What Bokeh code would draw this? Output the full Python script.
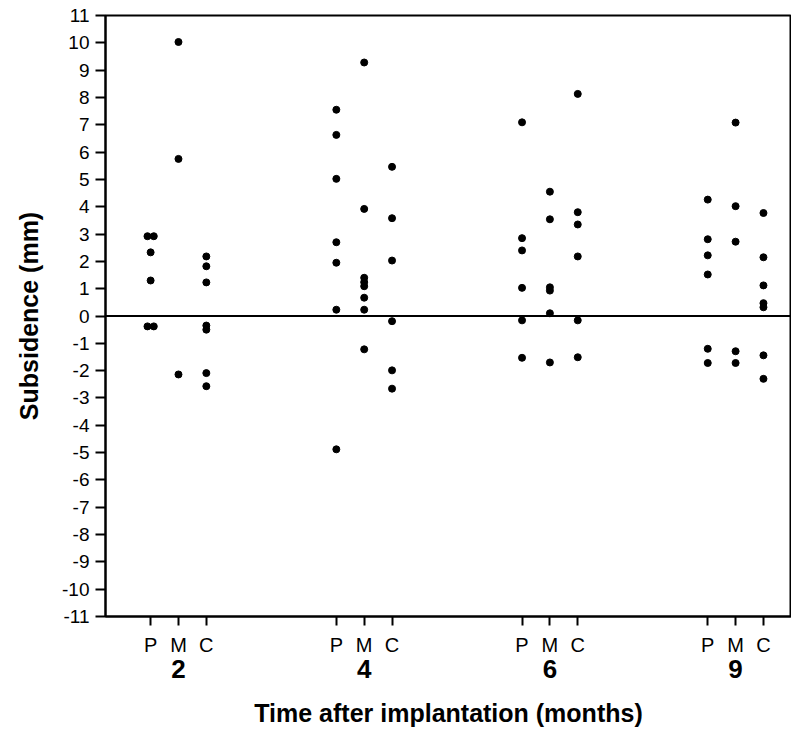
from bokeh.plotting import figure
from bokeh.models import FixedTicker, LinearAxis, Span, ColumnDataSource, Range1d
from bokeh.embed import file_html
from bokeh.resources import INLINE

# ---- data ----
months = ["2", "4", "6", "9"]
groups = ["P", "M", "C"]

m2_P = [2.92, 2.92, 2.33, 1.30, -0.38, -0.38]
m2_M = [10.03, 5.75, -2.14]
m2_C = [2.18, 1.82, 1.23, -0.35, -0.50, -2.09, -2.57]

m4_P = [7.55, 6.63, 5.02, 2.70, 1.95, 0.23, -4.88]
m4_M = [9.28, 3.92, 1.40, 1.24, 1.09, 0.67, 0.23, -1.22]
m4_C = [5.46, 3.58, 2.03, -0.19, -1.99, -2.66]

m6_P = [7.09, 2.85, 2.40, 1.03, -0.16, -1.53]
m6_M = [4.55, 3.54, 1.05, 0.93, 0.10, -1.70]
m6_C = [8.13, 3.80, 3.35, 2.18, -0.16, -1.51]

m9_P = [4.26, 2.81, 2.22, 1.52, -1.20, -1.72]
m9_M = [7.08, 4.02, 2.72, -1.29, -1.72]
m9_C = [3.77, 2.15, 1.12, 0.47, 0.32, -1.44, -2.30]

y_ticks = list(range(-11, 12))
y_tick_labels = [str(t) for t in y_ticks]
x_title = "Time after implantation (months)"
y_title = "Subsidence (mm)"

table = {
    ("2", "P"): m2_P, ("2", "M"): m2_M, ("2", "C"): m2_C,
    ("4", "P"): m4_P, ("4", "M"): m4_M, ("4", "C"): m4_C,
    ("6", "P"): m6_P, ("6", "M"): m6_M, ("6", "C"): m6_C,
    ("9", "P"): m9_P, ("9", "M"): m9_M, ("9", "C"): m9_C,
}

# ---- layout of the categorical positions ----
group_center = {m: 100 * (i + 1) for i, m in enumerate(months)}
sub_offset = {"P": -15, "M": 0, "C": 15}

xs, ys = [], []
for (m, g), vals in table.items():
    seen = {}
    for v in vals:
        seen[v] = seen.get(v, 0) + 1
    counts = {}
    for v in vals:
        n = seen[v]
        k = counts.get(v, 0)
        counts[v] = k + 1
        spread = (k - (n - 1) / 2) * 3.4 if n > 1 else 0
        xs.append(group_center[m] + sub_offset[g] + spread)
        ys.append(v)

src = ColumnDataSource(dict(x=xs, y=ys))

FONT = "Liberation Sans"

p = figure(width=791, height=733,
           x_range=Range1d(60.7, 430.1), y_range=Range1d(-11, 11),
           output_backend="svg", toolbar_location=None,
           min_border_left=105, min_border_top=15, min_border_right=0,
           min_border_bottom=117)
p.grid.visible = False
p.outline_line_color = "black"
p.outline_line_width = 2
p.background_fill_color = "white"
p.border_fill_color = "white"

p.scatter("x", "y", source=src, size=7, color="black")

p.add_layout(Span(location=0, dimension="width", line_color="black", line_width=2))

# y axis
ya = p.yaxis[0]
ya.ticker = FixedTicker(ticks=y_ticks)
ya.major_label_overrides = dict(zip(y_ticks, y_tick_labels))
ya.major_tick_out = 10
ya.major_tick_in = 0
ya.minor_tick_line_color = None
ya.major_tick_line_width = 2
ya.axis_line_width = 2
ya.axis_line_color = "black"
ya.major_tick_line_color = "black"
ya.major_label_text_font = FONT
ya.major_label_text_font_size = "19px"
ya.major_label_text_color = "black"
ya.major_label_standoff = 6
ya.axis_label = y_title
ya.axis_label_text_font = FONT
ya.axis_label_text_font_size = "25px"
ya.axis_label_text_font_style = "bold"
ya.axis_label_text_color = "black"
ya.axis_label_standoff = 16

# x axis 1 (P M C)
sub_ticks, sub_labels = [], {}
for m in months:
    for g in groups:
        t = group_center[m] + sub_offset[g]
        sub_ticks.append(t)
        sub_labels[t] = g
xa = p.xaxis[0]
xa.ticker = FixedTicker(ticks=sub_ticks)
xa.major_label_overrides = sub_labels
xa.major_tick_out = 9
xa.major_tick_in = 0
xa.minor_tick_line_color = None
xa.major_tick_line_width = 2
xa.axis_line_width = 2
xa.axis_line_color = "black"
xa.major_tick_line_color = "black"
xa.major_label_text_font = FONT
xa.major_label_text_font_size = "20px"
xa.major_label_text_color = "black"
xa.major_label_standoff = 8

# x axis 2 (month numbers + title)
xb = LinearAxis(ticker=FixedTicker(ticks=[group_center[m] for m in months]),
                major_label_overrides={group_center[m]: m for m in months})
xb.axis_line_color = None
xb.major_tick_line_color = None
xb.minor_tick_line_color = None
xb.major_tick_out = 0
xb.major_tick_in = 0
xb.major_label_standoff = 1
xb.major_label_text_font = FONT
xb.major_label_text_font_size = "26px"
xb.major_label_text_font_style = "bold"
xb.major_label_text_color = "black"
xb.axis_label = x_title
xb.axis_label_text_font = FONT
xb.axis_label_text_font_size = "25px"
xb.axis_label_text_font_style = "bold"
xb.axis_label_text_color = "black"
xb.axis_label_standoff = 18
p.add_layout(xb, "below")

open("out.html", "w").write(file_html(p, INLINE))
